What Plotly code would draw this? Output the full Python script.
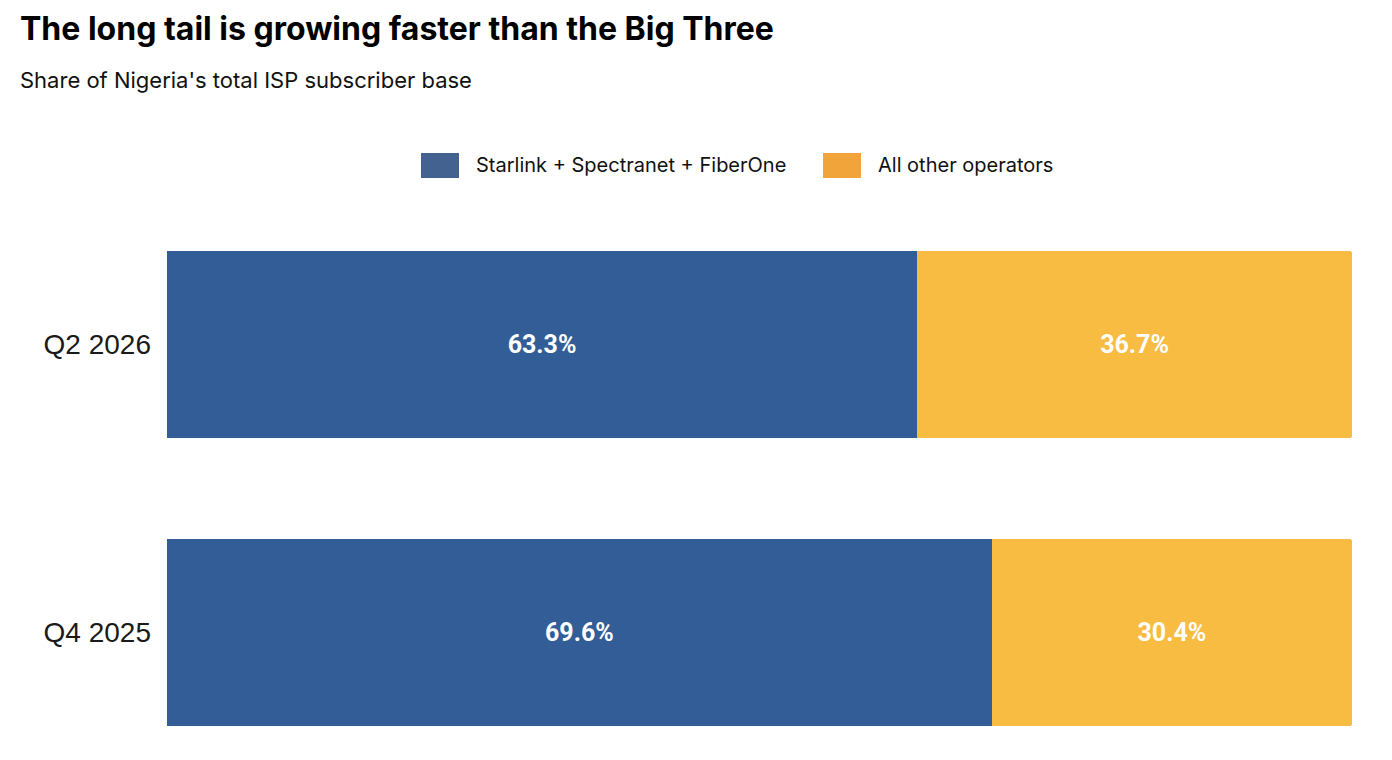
import plotly.graph_objects as go

periods = ["Q4 2025", "Q2 2026"]
series_names = ["Starlink + Spectranet + FiberOne", "All other operators"]
big_three = [69.6, 63.3]
long_tail = [30.4, 36.7]

bar_colors = ["#325D97", "#F7BC41"]
swatch_colors = ["#43628F", "#F0A43A"]

# plot area in figure pixels (page adds an 8px body margin)
L, T, W, H = 159, 222, 1185, 510


def px(x):
    return (x - L) / W


def py(y):
    return 1 + (T - y) / H


fig = go.Figure()

for name, vals, col in zip(series_names, [big_three, long_tail], bar_colors):
    fig.add_trace(
        go.Bar(
            y=periods,
            x=vals,
            name=name,
            orientation="h",
            marker=dict(color=col, line=dict(width=0)),
            text=[f"{v:.1f}%" for v in vals],
            textposition="inside",
            insidetextanchor="middle",
            textfont=dict(family="Roboto", size=25, color="white", weight="bold"),
            showlegend=False,
            hoverinfo="skip",
        )
    )

# legend drawn by hand so the swatches can be big like the original
swatch_x = [413, 815]
for i, (name, col) in enumerate(zip(series_names, swatch_colors)):
    fig.add_shape(
        type="rect", xref="paper", yref="paper",
        x0=px(swatch_x[i]), x1=px(swatch_x[i] + 38),
        y0=py(170), y1=py(145),
        fillcolor=col, line=dict(width=0),
    )
    fig.add_annotation(
        text=name, xref="paper", yref="paper",
        x=px(swatch_x[i] + 53), y=py(157),
        xanchor="left", yanchor="middle", showarrow=False,
        font=dict(family="Inter", size=20, color="#111"),
    )

fig.add_annotation(
    text="<b>The long tail is growing faster than the Big Three</b>",
    xref="paper", yref="paper", x=px(10), y=py(20),
    xanchor="left", yanchor="middle", showarrow=False,
    font=dict(family="Inter", size=32, color="#000"),
)
fig.add_annotation(
    text="Share of Nigeria's total ISP subscriber base",
    xref="paper", yref="paper", x=px(10), y=py(72),
    xanchor="left", yanchor="middle", showarrow=False,
    font=dict(family="Inter", size=22, color="#111"),
)

fig.update_layout(
    barmode="stack",
    bargap=0.35,
    barcornerradius=3,
    width=1392,
    height=760,
    margin=dict(l=L, r=1392 - L - W, t=T, b=760 - T - H),
    paper_bgcolor="white",
    plot_bgcolor="white",
    xaxis=dict(range=[0, 100], visible=False, fixedrange=True),
    yaxis=dict(
        range=[-0.373, 1.398],
        showgrid=False,
        showline=False,
        ticks="",
        ticklabelstandoff=15,
        tickfont=dict(family="Liberation Sans", size=28, color="#1a1a1a"),
    ),
)

fig.write_html("out.html")
